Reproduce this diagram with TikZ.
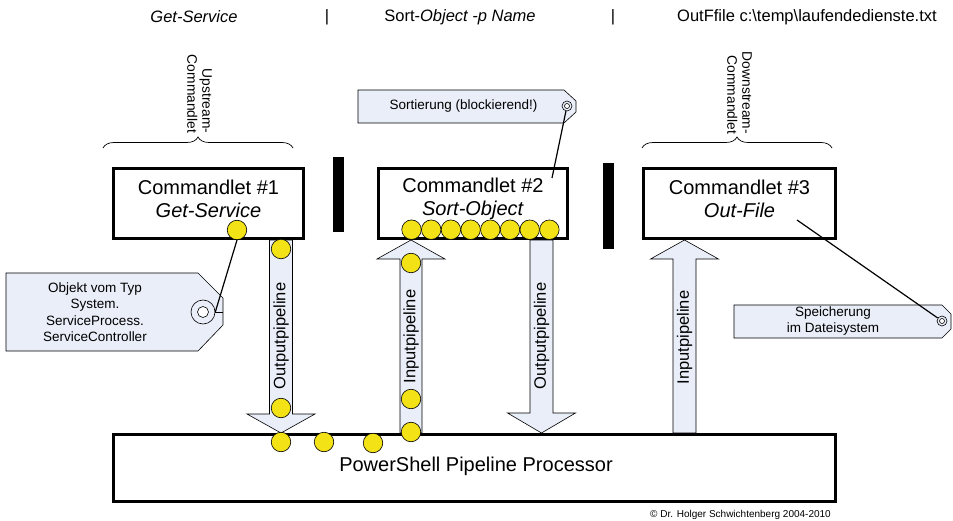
\documentclass[tikz,border=0pt]{standalone}
\usepackage{fontspec}
\setmainfont{Liberation Sans}
\usetikzlibrary{decorations.pathreplacing}
\definecolor{tagfill}{RGB}{233,238,248}
\definecolor{ballfill}{RGB}{242,226,22}
\begin{document}
\begin{tikzpicture}[x=1pt,y=-1pt,
  cmdbox/.style={draw, line width=3pt, minimum height=70pt, inner sep=0pt},
  cmdtext/.style={align=center, font=\fontsize{20}{23}\selectfont, inner sep=0pt},
  ball/.style={circle, draw, fill=ballfill, minimum size=19.5pt, inner sep=0pt, line width=0.6pt},
  pipe/.style={draw, fill=tagfill, line width=0.6pt},
  tagshape/.style={draw, fill=tagfill, line width=0.6pt},
  tagtext/.style={align=center, font=\fontsize{13.5}{16.5}\selectfont, inner sep=0pt},
  pipetext/.style={rotate=90, font=\fontsize{16.5}{19}\selectfont, inner sep=0pt},
  toptext/.style={font=\fontsize{16.5}{19}\selectfont, inner sep=0pt},
  bracetext/.style={rotate=-90, align=right, font=\fontsize{13.8}{15}\selectfont, inner sep=0pt},
  bracepath/.style={decorate, decoration={brace, amplitude=11pt}, line width=0.7pt},
  holeout/.style={circle, draw, fill=tagfill, inner sep=0pt, line width=0.6pt},
  holein/.style={circle, draw, fill=white, inner sep=0pt, line width=0.6pt},
  leader/.style={line width=1.2pt},
  bar/.style={fill=black}
]
\useasboundingbox (0,0) rectangle (953,521);

% top labels
\node[toptext] (t1) at (194,17) {\textit{Get-Service}};
\node[toptext] (s1) at (327,17) {|};
\node[toptext] (t2) at (460,17) {Sort-\textit{Object -p Name}};
\node[toptext] (s2) at (613,17) {|};
\node[toptext] (t3) at (807,17) {OutFfile c:\textbackslash temp\textbackslash laufendedienste.txt};

% braces
\draw[bracepath] (103,148) -- (293,148);
\node[bracetext] (up) at (199.5,94) {Upstream-\\Commandlet};
\draw[bracepath] (642,148) -- (832,148);
\node[bracetext] (down) at (739.5,93) {Downstream-\\Commandlet};

% pipeline arrows
\draw[pipe] (269.5,240) -- (292.5,240) -- (292.5,414) -- (315,414) -- (281,433)
  -- (247,414) -- (269.5,414) -- cycle;
\draw[pipe] (400,433) -- (400,259) -- (377,259) -- (411,240) -- (445,259)
  -- (422,259) -- (422,433) -- cycle;
\draw[pipe] (530,240) -- (553,240) -- (553,413) -- (575.5,413) -- (541.5,433)
  -- (507.5,413) -- (530,413) -- cycle;
\draw[pipe] (673,433) -- (673,259) -- (650.5,259) -- (684.5,240) -- (718.5,259)
  -- (696,259) -- (696,433) -- cycle;

\node[pipetext] (p1) at (281,336) {Outputpipeline};
\node[pipetext] (p2) at (411,336.5) {Inputpipeline};
\node[pipetext] (p3) at (541.5,336) {Outputpipeline};
\node[pipetext] (p4) at (684.5,337.5) {Inputpipeline};

% commandlet boxes
\node[cmdbox, minimum width=190pt] (c1) at (208.5,203.5) {};
\node[cmdbox, minimum width=189pt] (c2) at (473,203.5) {};
\node[cmdbox, minimum width=192pt] (c3) at (739.5,203.5) {};
\node[cmdtext] (c1t) at (208.5,198.5) {Commandlet \#1\\\textit{Get-Service}};
\node[cmdtext] (c2t) at (473,198.5) {Commandlet \#2\\\textit{Sort-Object}};
\node[cmdtext] (c3t) at (739.5,199) {Commandlet \#3\\\textit{Out-File}};

% separators
\fill[bar] (333,157) rectangle (344,232);
\fill[bar] (603,163) rectangle (614,249);

% processor
\node[cmdbox, minimum width=722pt, minimum height=67pt] (proc) at (474.5,468) {};
\node[cmdtext] (proct) at (476,466) {PowerShell Pipeline Processor};

% balls
\node[ball] (b1) at (237,230) {};
\foreach \i in {0,...,7} {
  \node[ball] (q\i) at ({411.5+19.7*\i},229.7) {};
}
\node[ball] (a1) at (281,249) {};
\node[ball] (a2) at (281,408) {};
\node[ball] (i1) at (411,263) {};
\node[ball] (i2) at (411,399) {};
\node[ball] (i3) at (411,432) {};
\node[ball] (r1) at (281,442) {};
\node[ball] (r2) at (324,442) {};
\node[ball] (r3) at (373,443) {};

% tag: Sortierung
\draw[tagshape] (358,90) -- (564,90) -- (576,101) -- (576,112) -- (564,123) -- (358,123) -- cycle;
\node[tagtext] (sortt) at (463.5,106) {Sortierung (blockierend!)};
\node[holeout, minimum size=10pt] (h2) at (567,106) {};
\node[holein, minimum size=5pt] (h2i) at (567,106) {};
\coordinate (c2line) at (552,178);
\draw[leader] (h2) -- (c2line);

% tag: Objekt
\draw[tagshape] (6,273) -- (198,273) -- (223,298) -- (223,325) -- (198,351) -- (6,351) -- cycle;
\node[tagtext] (objt) at (95,312) {Objekt vom Typ\\System.\\ServiceProcess.\\ServiceController};
\node[holeout, minimum size=24pt] (h1) at (203,312) {};
\node[holein, minimum size=11pt] (h1i) at (203,312) {};
\coordinate (h1edge) at (223,312);
\draw[line width=0.7pt] (h1.east) -- (h1edge);
\draw[leader] (h1.east) -- (b1.south);

% tag: Speicherung
\draw[tagshape] (734,305) -- (942,305) -- (951,314) -- (951,329) -- (942,338) -- (734,338) -- cycle;
\node[tagtext] (spt) at (833,321) {Speicherung\\im Dateisystem};
\node[holeout, minimum size=10pt] (h3) at (942,321) {};
\node[holein, minimum size=5pt] (h3i) at (942,321) {};
\coordinate (c3line) at (797,220);
\draw[leader] (c3line) -- (h3);

% copyright
\node[anchor=east, font=\fontsize{10}{12}\selectfont, inner sep=0pt] (copy) at (831,515) {\textcopyright{} Dr. Holger Schwichtenberg 2004-2010};
\end{tikzpicture}
\end{document}
